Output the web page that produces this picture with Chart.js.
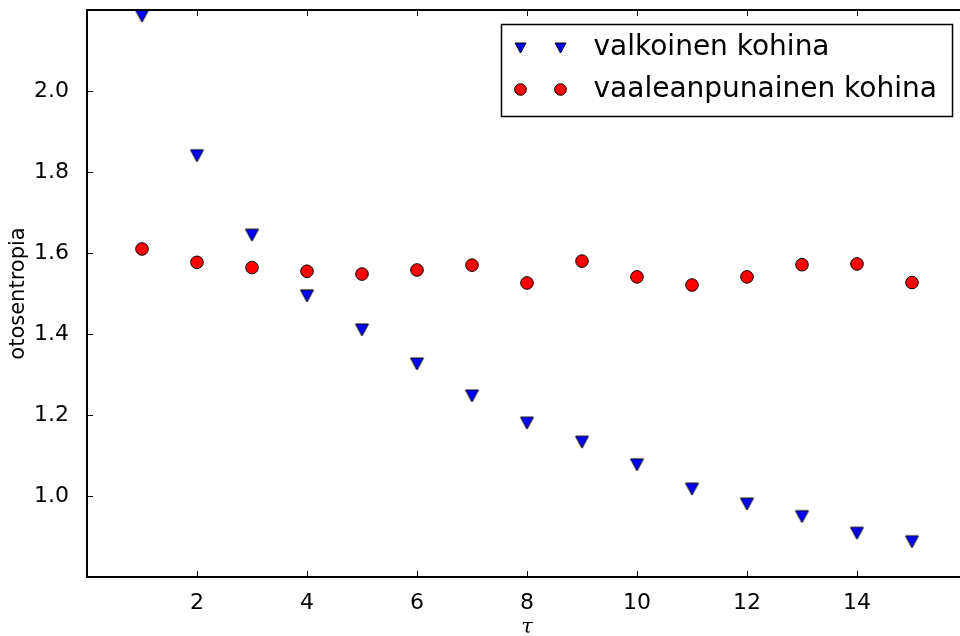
<!DOCTYPE html>
<html lang="fi">
<head>
<meta charset="UTF-8">
<title>otosentropia</title>
<script src="https://cdn.jsdelivr.net/npm/chart.js@4.4.1/dist/chart.umd.min.js"></script>
<style>
  html, body { margin: 0; padding: 0; background: #fff; overflow: hidden; }
  #wrap { width: 980px; height: 636px; }
</style>
</head>
<body>
<div id="wrap"><canvas id="c" width="980" height="636"></canvas></div>
<script>
// data
const tau = [1, 2, 3, 4, 5, 6, 7, 8, 9, 10, 11, 12, 13, 14, 15];
const valkoinen = [2.185, 1.840, 1.644, 1.494, 1.410, 1.326, 1.247, 1.180, 1.133, 1.077, 1.017, 0.980, 0.949, 0.908, 0.887];
const vaaleanpunainen = [1.610, 1.577, 1.564, 1.555, 1.548, 1.558, 1.570, 1.526, 1.580, 1.541, 1.521, 1.541, 1.571, 1.573, 1.527];
const xTicks = [2, 4, 6, 8, 10, 12, 14];
const yTicks = [1.0, 1.2, 1.4, 1.6, 1.8, 2.0];
const seriesNames = ['valkoinen kohina', 'vaaleanpunainen kohina'];

// matplotlib-like downward triangle (bbox centred)
function triangleImage(w, h) {
  const c = document.createElement('canvas');
  c.width = w + 4; c.height = h + 4;
  const g = c.getContext('2d');
  const x0 = 2, y0 = 2;
  g.beginPath();
  g.moveTo(x0, y0);
  g.lineTo(x0 + w, y0);
  g.lineTo(x0 + w / 2, y0 + h);
  g.closePath();
  g.fillStyle = '#0000ff';
  g.fill();
  g.lineWidth = 1;
  g.strokeStyle = '#000';
  g.stroke();
  return c;
}
const triBig = triangleImage(13, 12);
const triSmall = triangleImage(11, 10);

const FONT = "'DejaVu Sans', sans-serif";

const frameAndTicks = {
  id: 'frameAndTicks',
  afterDatasetsDraw(chart) {
    const ctx = chart.ctx;
    const a = chart.chartArea;
    const xs = chart.scales.x, ys = chart.scales.y;
    const tl = 6;
    ctx.save();
    ctx.strokeStyle = '#000';
    ctx.lineWidth = 1;
    ctx.beginPath();
    xTicks.forEach(v => {
      const px = Math.round(xs.getPixelForValue(v)) + 0.5;
      ctx.moveTo(px, a.bottom); ctx.lineTo(px, a.bottom - tl);
      ctx.moveTo(px, a.top); ctx.lineTo(px, a.top + tl);
    });
    yTicks.forEach(v => {
      const py = Math.round(ys.getPixelForValue(v)) + 0.5;
      ctx.moveTo(a.left, py); ctx.lineTo(a.left + tl, py);
      ctx.moveTo(a.right, py); ctx.lineTo(a.right - tl, py);
    });
    ctx.stroke();
    ctx.lineWidth = 2;
    ctx.strokeRect(a.left, a.top, a.right - a.left, a.bottom - a.top);

    // legend, upper right
    const lw = 451, lh = 92;
    const lx = Math.round(a.right - 15 - lw) + 0.5;
    const ly = Math.round(a.top + 14) + 0.5;
    ctx.fillStyle = '#fff';
    ctx.fillRect(lx, ly, lw, lh);
    ctx.lineWidth = 1.5;
    ctx.strokeRect(lx, ly, lw, lh);
    const rows = [ly + 23, ly + 65];
    const mx = [lx + 19, lx + 59];
    mx.forEach(x => {
      ctx.drawImage(triSmall, Math.round(x - triSmall.width / 2), Math.round(rows[0] - triSmall.height / 2));
      ctx.beginPath();
      ctx.arc(x, rows[1], 5.8, 0, Math.PI * 2);
      ctx.fillStyle = '#ff0000';
      ctx.fill();
      ctx.lineWidth = 1;
      ctx.strokeStyle = '#000';
      ctx.stroke();
    });
    ctx.fillStyle = '#000';
    ctx.font = '28px ' + FONT;
    ctx.textAlign = 'left';
    ctx.textBaseline = 'middle';
    ctx.fillText(seriesNames[0], lx + 92, rows[0]);
    ctx.fillText(seriesNames[1], lx + 92, rows[1]);
    ctx.restore();
  }
};

new Chart(document.getElementById('c'), {
  type: 'scatter',
  data: {
    datasets: [{
      label: seriesNames[0],
      data: tau.map((t, i) => ({ x: t, y: valkoinen[i] })),
      pointStyle: triBig,
      pointRadius: 7,
      backgroundColor: '#0000ff',
      borderColor: '#000'
    }, {
      label: seriesNames[1],
      data: tau.map((t, i) => ({ x: t, y: vaaleanpunainen[i] })),
      pointStyle: 'circle',
      pointRadius: 6.3,
      borderWidth: 1,
      backgroundColor: '#ff0000',
      borderColor: '#000'
    }]
  },
  options: {
    responsive: false,
    animation: false,
    events: [],
    layout: { padding: { left: 0, top: 10, right: 13, bottom: 0 } },
    plugins: { legend: { display: false }, tooltip: { enabled: false } },
    scales: {
      x: {
        type: 'linear',
        min: 0,
        max: 16,
        afterFit(s) { s.height = 59; s.paddingLeft = 0; s.paddingRight = 0; },
        afterBuildTicks(s) { s.ticks = xTicks.map(v => ({ value: v })); },
        grid: { display: false },
        border: { display: false },
        ticks: { color: '#000', padding: 5, font: { family: FONT, size: 22 }, maxRotation: 0 },
        title: {
          display: true,
          text: 'τ',
          color: '#000',
          font: { family: "'DejaVu Serif', serif", size: 21, style: 'italic', lineHeight: 1 },
          padding: { top: 0, bottom: -2 }
        }
      },
      y: {
        type: 'linear',
        min: 0.8,
        max: 2.2,
        afterFit(s) { s.width = 87; s.paddingTop = 0; s.paddingBottom = 0; },
        afterBuildTicks(s) { s.ticks = yTicks.map(v => ({ value: v })); },
        grid: { display: false },
        border: { display: false },
        ticks: {
          color: '#000',
          padding: 10,
          font: { family: FONT, size: 22 },
          callback: v => v.toFixed(1)
        },
        title: {
          display: true,
          text: 'otosentropia',
          color: '#000',
          font: { family: FONT, size: 21 },
          padding: { top: 6, bottom: 0 }
        }
      }
    }
  },
  plugins: [frameAndTicks]
});
</script>
</body>
</html>
